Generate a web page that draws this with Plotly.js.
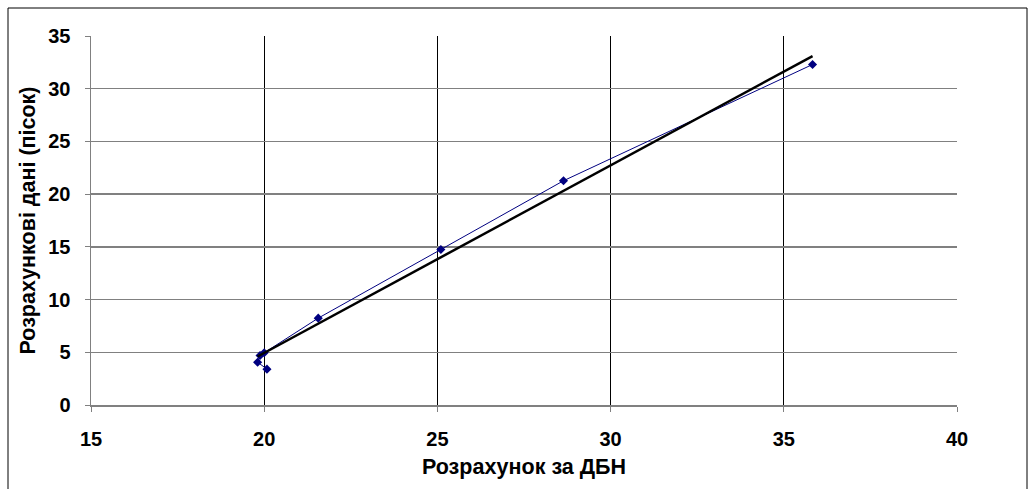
<!DOCTYPE html>
<html>
<head>
<meta charset="utf-8">
<script src="https://cdn.plot.ly/plotly-3.0.1.min.js"></script>
<style>
html,body{margin:0;padding:0;background:#fff;}
#chart{width:1035px;height:489px;}
</style>
</head>
<body>
<div id="chart"></div>
<script>
// Data series (Розрахунок за ДБН vs Розрахункові дані (пісок))
const dbnValues = [20.08, 19.81, 19.88, 20.0, 21.56, 25.1, 28.64, 35.83];
const sandValues = [3.4, 4.06, 4.7, 4.95, 8.24, 14.75, 21.27, 32.3];
// Linear trend line endpoints
const trendX = [19.81, 35.83];
const trendY = [4.6, 33.1];

const xTicks = [15, 20, 25, 30, 35, 40];
const yTicks = [0, 5, 10, 15, 20, 25, 30, 35];

const W = 1035, H = 489;
const L = 91, R = 78, T = 36, B = 84;
const pw = W - L - R, ph = H - T - B;

const traces = [
  {
    x: dbnValues, y: sandValues, type: 'scatter', mode: 'lines+markers',
    line: {color: '#000080', width: 1},
    marker: {symbol: 'diamond', size: 7, color: '#000080'},
    showlegend: false, hoverinfo: 'skip'
  },
  {
    x: trendX, y: trendY, type: 'scatter', mode: 'lines',
    line: {color: '#000000', width: 2.5},
    showlegend: false, hoverinfo: 'skip'
  }
];

const fontFam = 'Arial, "Liberation Sans", sans-serif';
const tickFont = {family: fontFam, size: 20, color: '#000', weight: 700};
const titleFont = {family: fontFam, size: 21.5, color: '#000'};
const layout = {
  width: W, height: H,
  margin: {l: L, r: R, t: T, b: B, pad: 0},
  paper_bgcolor: '#ffffff', plot_bgcolor: '#ffffff',
  font: {family: fontFam, color: '#000', size: 20},
  xaxis: {
    range: [15, 40], tickmode: 'array', tickvals: xTicks, ticktext: xTicks.map(v => '<b>' + v + '</b>'),
    showgrid: true, gridcolor: '#000000', gridwidth: 1,
    zeroline: false, showline: true, linecolor: '#808080', linewidth: 1.5,
    ticks: 'outside', ticklen: 5, tickcolor: '#808080', tickwidth: 1,
    tickfont: tickFont,
    ticklabelstandoff: 10,
    title: {text: '<b>Розрахунок за ДБН</b>', font: titleFont, standoff: 10}
  },
  yaxis: {
    range: [0, 35], tickmode: 'array', tickvals: yTicks, ticktext: yTicks.map(v => '<b>' + v + '</b>'),
    showgrid: true, gridcolor: '#808080', gridwidth: 1.5,
    zeroline: false, showline: true, linecolor: '#808080', linewidth: 1.5,
    ticks: 'outside', ticklen: 5, tickcolor: '#808080', tickwidth: 1,
    tickfont: tickFont,
    ticklabelstandoff: 10,
    title: {text: '<b>Розрахункові дані (пісок)</b>', font: titleFont, standoff: 6}
  },
  shapes: [{
    type: 'rect', xref: 'paper', yref: 'paper',
    x0: (8 - L) / pw, x1: (1027 - L) / pw,
    y0: ((T + ph) - 495) / ph, y1: ((T + ph) - 8) / ph,
    line: {color: '#000', width: 1}, fillcolor: 'rgba(0,0,0,0)', layer: 'above'
  }]
};

Plotly.newPlot('chart', traces, layout, {staticPlot: true, displayModeBar: false});
</script>
</body>
</html>
